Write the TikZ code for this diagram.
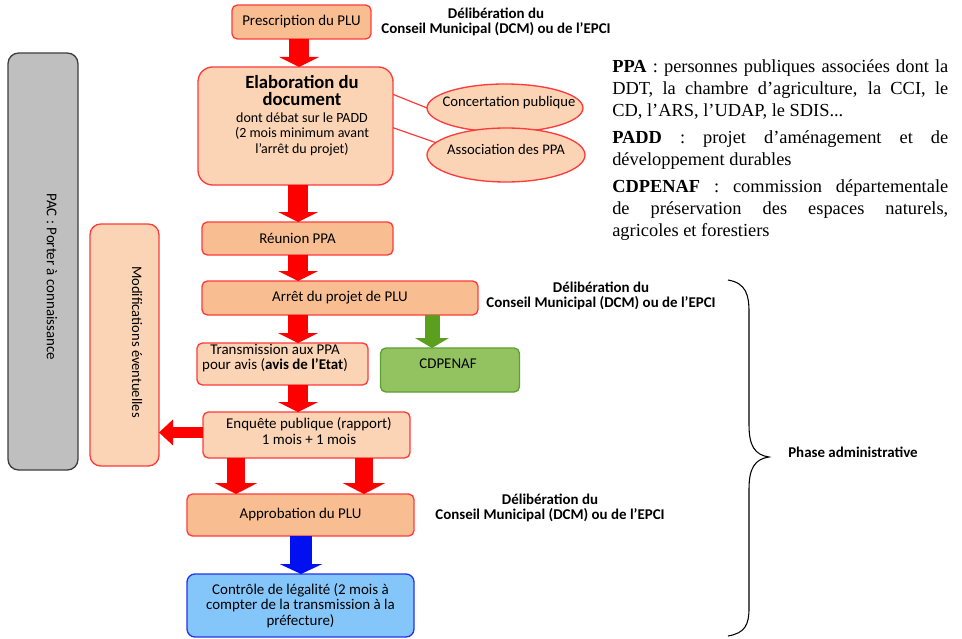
\documentclass[tikz,border=0pt]{standalone}
\usepackage{fontspec}
\setmainfont{Carlito}
\newfontfamily\legendfont{Liberation Serif}
\usetikzlibrary{arrows.meta,shapes.geometric,calc}

\definecolor{orangefill}{HTML}{F8BE91}
\definecolor{peach}{HTML}{FAD4B4}
\definecolor{boxred}{HTML}{FF3B3B}
\definecolor{greenfill}{HTML}{93C260}
\definecolor{greenline}{HTML}{5E9E32}
\definecolor{bluefill}{HTML}{85C6FA}
\definecolor{blueline}{HTML}{2233EE}
\definecolor{grayfill}{HTML}{BFBFBF}
\definecolor{grayline}{HTML}{3F3F3F}
\definecolor{arrowred}{HTML}{FF0000}
\definecolor{arrowgreen}{HTML}{5AA01E}
\definecolor{arrowblue}{HTML}{0010F0}

\begin{document}
\begin{tikzpicture}[x=0.75pt,y=-0.75pt,
  sz/.style 2 args={minimum width=#1*0.75pt,minimum height=#2*0.75pt},
  box/.style={draw=boxred,line width=1pt,rounded corners=4pt,inner sep=0pt,outer sep=0pt,
    align=center,font=\fontsize{11.2pt}{11.6pt}\selectfont},
  darkbox/.style={box,fill=orangefill},
  lightbox/.style={box,fill=peach},
  bubble/.style={ellipse,draw=boxred,line width=1pt,fill=peach,inner sep=0pt,outer sep=0pt},
  txt/.style={inner sep=0pt,align=center,font=\fontsize{11.2pt}{11.25pt}\selectfont},
  delib/.style={inner sep=0pt,align=center,font=\bfseries\fontsize{11.2pt}{11.25pt}\selectfont},
  redarrow/.style={draw=arrowred,line width=15pt,-{Triangle[width=30pt,length=7.5pt,line width=0pt]}},
  twinarrow/.style={draw=arrowred,line width=13.5pt,-{Triangle[width=32pt,length=8.25pt,line width=0pt]}},
  sidearrow/.style={draw=arrowred,line width=8.25pt,-{Triangle[width=19.5pt,length=10.5pt,line width=0pt]}},
  greenarrow/.style={draw=arrowgreen,line width=11.25pt,-{Triangle[width=25.5pt,length=7.5pt,line width=0pt]}},
  bluearrow/.style={draw=arrowblue,line width=16.5pt,-{Triangle[width=32pt,length=7.5pt,line width=0pt]}},
  link/.style={draw=boxred,line width=0.9pt}
]
\useasboundingbox (0,0) rectangle (962,638);

% side bands
\node[box,draw=grayline,fill=grayfill,rounded corners=8pt,sz={70}{417}] (pac) at (43,261.5) {};
\node[txt,rotate=-90] (pactxt) at (52,277) {PAC : Porter à connaissance};
\node[lightbox,rounded corners=8pt,sz={69}{242}] (modif) at (124.5,345) {};
\node[txt,rotate=-90,font=\fontsize{10.9pt}{12pt}\selectfont] (modiftxt) at (137,342) {Modifications éventuelles};

% main column
\node[darkbox,sz={139}{34}] (presc) at (301.5,22) {Prescription du PLU};
\node[lightbox,rounded corners=11pt,sz={195}{118}] (elab) at (295.5,126) {};
\node[txt,font=\bfseries\fontsize{14pt}{12.75pt}\selectfont] (elabtitle) at (302,90.5) {Elaboration du\\document};
\node[txt,font=\fontsize{10.5pt}{11.6pt}\selectfont] (elabsub) at (302,134) {dont débat sur le PADD\\(2 mois minimum avant\\l’arrêt du projet)};

% consultation bubbles
\node[bubble,minimum width=117pt,minimum height=36pt] (conc) at (505,108) {};
\node[txt,font=\fontsize{11pt}{12pt}\selectfont] (conctxt) at (509,103) {Concertation publique};
\node[bubble,minimum width=118.5pt,minimum height=40.5pt] (assoc) at (506,155) {};
\node[txt,font=\fontsize{11pt}{12pt}\selectfont] (assoctxt) at (506,149) {Association des PPA};
\draw[link] (elab.18.7) -- (conc.180);
\draw[link] (elab.-1.8) -- (assoc.170);

\node[darkbox,sz={191}{33}] (reun) at (297.5,238.5) {Réunion PPA};
\node[darkbox,sz={276}{34}] (arret) at (340,298) {Arrêt du projet de PLU};
\node[lightbox,sz={171}{42}] (trans) at (282.5,364) {};
\node[txt] (transtxt) at (275,358.5) {Transmission aux PPA\\pour avis (\textbf{avis de l’Etat})};
\node[box,draw=greenline,fill=greenfill,sz={139}{44}] (cdp) at (450,370) {};
\node[txt] (cdptxt) at (448,364) {CDPENAF};
\node[lightbox,sz={207}{46}] (enq) at (306.5,435) {};
\node[txt,font=\fontsize{11.2pt}{12pt}\selectfont] (enqtxt) at (309,431) {Enquête publique (rapport)\\1 mois + 1 mois};
\node[darkbox,sz={227}{42}] (appro) at (300.5,515) {Approbation du PLU};
\node[box,draw=blueline,fill=bluefill,rounded corners=6pt,sz={227}{63}] (ctrl) at (300.5,605.5) {Contrôle de légalité (2 mois à\\compter de la transmission à la\\préfecture)};

% deliberation notes
\node[delib] (d1) at (496,22) {Délibération du\\Conseil Municipal (DCM) ou de l’EPCI};
\node[delib] (d2) at (601,296) {Délibération du\\Conseil Municipal (DCM) ou de l’EPCI};
\node[delib] (d3) at (550,508) {Délibération du\\Conseil Municipal (DCM) ou de l’EPCI};

% glossary
\node[anchor=north west,inner sep=0pt,text width=252pt,align=justify,
  font=\legendfont\fontsize{13.8pt}{16.5pt}\selectfont] (legend) at (612,59)
  {\setlength\parindent{0pt}\setlength\parskip{3.75pt}\emergencystretch=2em%
   \textbf{PPA} : personnes publiques associées dont la\linebreak
   DDT, la chambre d’agriculture, la CCI, le\linebreak
   CD, l’ARS, l’UDAP, le SDIS...\par
   \textbf{PADD} : projet d’aménagement et de\linebreak
   développement durables\par
   \textbf{CDPENAF} : commission départementale\linebreak
   de préservation des espaces naturels,\linebreak
   agricoles et forestiers\par};

% column positions of the flow arrows
\coordinate (cA) at (299,0);
\coordinate (cB) at (298,0);
\coordinate (cG) at (432,0);
\coordinate (cL) at (236,0);
\coordinate (cR) at (364,0);
\coordinate (cU) at (301,0);

\draw[redarrow] (presc.south -| cA) -- (elab.north -| cA);
\draw[redarrow] (elab.south -| cB) -- (reun.north -| cB);
\draw[redarrow] (reun.south -| cB) -- (arret.north -| cB);
\draw[redarrow] (arret.south -| cB) -- (trans.north -| cB);
\draw[greenarrow] (arret.south -| cG) -- (cdp.north -| cG);
\draw[redarrow] (trans.south -| cB) -- (enq.north -| cB);
\draw[sidearrow] ([yshift=1.9pt]enq.west) -- ([yshift=1.9pt]enq.west -| modif.east);
\draw[twinarrow] (enq.south -| cL) -- (appro.north -| cL);
\draw[twinarrow] (enq.south -| cR) -- (appro.north -| cR);
\draw[bluearrow] (appro.south -| cU) -- (ctrl.north -| cU);

% brace over the administrative phase
\draw[line width=0.8pt] (728,280) .. controls (746,283) and (749,295) .. (749,312)
  -- (749,425) .. controls (749,446) and (755,455) .. (769,457)
  .. controls (755,459) and (749,468) .. (749,489)
  -- (749,608) .. controls (749,625) and (745,633) .. (728,636);
\node[delib] (phase) at (853,452) {Phase administrative};
\end{tikzpicture}
\end{document}
